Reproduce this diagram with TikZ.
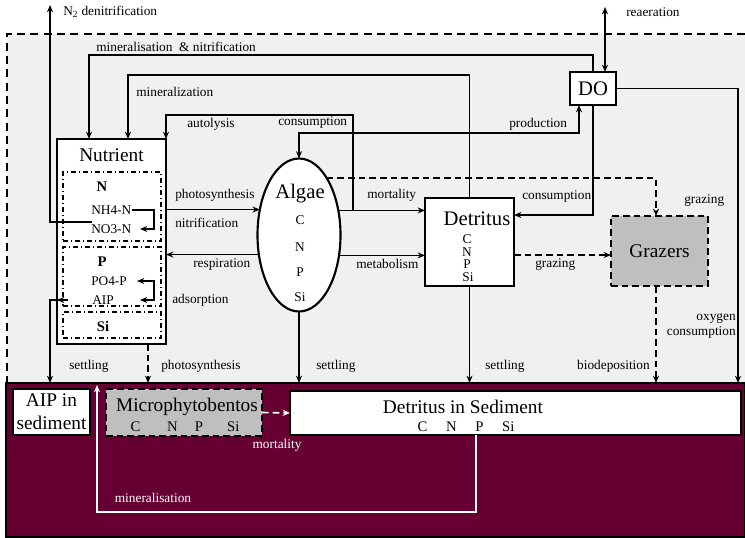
\documentclass[tikz,border=0pt]{standalone}
\usepackage{fontspec}
\setmainfont{Liberation Serif}
\usetikzlibrary{arrows.meta,shapes.geometric}
\definecolor{bggrey}{HTML}{F0F0F0}
\definecolor{seabedred}{HTML}{660033}
\definecolor{boxgrey}{HTML}{BFBFBF}
\tikzset{
  >={Stealth[length=5.5pt,width=4.5pt]},
  conn/.style={line width=1.3pt},
  dconn/.style={line width=1.3pt, dash pattern=on 5pt off 3pt},
  box/.style={draw, line width=1.6pt, fill=white, inner sep=0pt, outer sep=0pt},
  subbox/.style={draw, line width=1.2pt, dash pattern=on 4pt off 2pt on 1pt off 2pt, inner sep=0pt, outer sep=0pt},
  lbl/.style={font=\fontsize{10}{12}\selectfont, inner sep=0pt},
  big/.style={font=\fontsize{14.5}{17}\selectfont, inner sep=0pt},
  bold/.style={font=\fontsize{11}{13}\selectfont\bfseries, inner sep=0pt},
}
\begin{document}
\begin{tikzpicture}[x=0.75pt,y=-0.75pt]
\useasboundingbox (0,0) rectangle (745,538);
% backgrounds
\fill[bggrey] (7,34) rectangle (745,383);
\draw[line width=1.6pt, dash pattern=on 6pt off 4pt] (745,34) -- (7,34) -- (7,383);
\draw[fill=seabedred, line width=1.6pt] (6,383) rectangle (745,537);

% nutrient box
\node[box, minimum width=81.75pt, minimum height=153.75pt] (nut) at (111.5,241.5) {};
\node[big] (nuttitle) at (111.5,155) {Nutrient};
\node[subbox, minimum width=73.5pt, minimum height=51.75pt] (nsub) at (112,206.5) {};
\node[subbox, minimum width=73.5pt, minimum height=44.25pt] (psub) at (112,276.5) {};
\node[subbox, minimum width=73.5pt, minimum height=19.5pt] (sisub) at (112,325) {};
\node[bold] (nlet) at (102,187) {N};
\node[lbl, anchor=west] (nh4) at (91,210) {NH4-N};
\node[lbl, anchor=west] (no3) at (91,229) {NO3-N};
\node[bold] (plet) at (102,262) {P};
\node[lbl, anchor=west] (po4) at (91,281) {PO4-P};
\node[lbl, anchor=west] (aip) at (92,300) {AIP};
\node[bold] (silet) at (103,326) {Si};

% algae
\node[draw, ellipse, line width=1.6pt, fill=white, minimum width=62.25pt, minimum height=114.75pt, inner sep=0pt, outer sep=0pt] (alg) at (299,235) {};
\node[big, font=\fontsize{15.5}{18}\selectfont] (algtitle) at (300,194) {Algae};
\node[lbl] (algc) at (300,220) {C};
\node[lbl] (algn) at (300,247) {N};
\node[lbl] (algp) at (300,272) {P};
\node[lbl] (algsi) at (300,297) {Si};

% detritus
\node[box, minimum width=66.75pt, minimum height=66pt] (det) at (469.5,242) {};
\node[big, font=\fontsize{15.5}{18}\selectfont] (dettitle) at (477,219) {Detritus};
\node[lbl] (detc) at (467,239) {C};
\node[lbl] (detn) at (467,252) {N};
\node[lbl] (detp) at (467,264) {P};
\node[lbl] (detsi) at (468,277) {Si};

% DO and grazers
\node[box, big, font=\fontsize{15.5}{18}\selectfont, minimum width=34.5pt, minimum height=24.75pt] (do) at (593,88.5) {DO};
\node[draw, fill=boxgrey, line width=1.6pt, dash pattern=on 5pt off 3pt, minimum width=72.75pt, minimum height=52.5pt, inner sep=0pt, outer sep=0pt, big] (graz) at (659.5,251) {Grazers};

% sediment boxes
\node[box, minimum width=57.75pt, minimum height=34.5pt, align=center, font=\fontsize{14.5}{17}\selectfont] (aipsed) at (51.5,412) {AIP in\\sediment};
\node[draw, fill=boxgrey, line width=1.6pt, dash pattern=on 5pt off 3pt, minimum width=117pt, minimum height=35.25pt, inner sep=0pt, outer sep=0pt] (micro) at (184,412.5) {};
\node[big] (microtitle) at (187,407) {Microphytobentos};
\node[lbl, font=\fontsize{11}{13}\selectfont] (microcnps) at (185,427) {C\hspace{20pt}N\hspace{13pt}P\hspace{18pt}Si};
\node[box, minimum width=338.25pt, minimum height=33pt] (detsed) at (515.5,413) {};
\node[big] (detsedtitle) at (463,407) {Detritus in Sediment};
\node[lbl, font=\fontsize{11}{13}\selectfont] (detsedcnps) at (466,427) {C\hspace{14pt}N\hspace{14pt}P\hspace{14pt}Si};

% coordinates
\coordinate (n2top) at (50,5);
\coordinate (n2start) at (92,222);
\coordinate (reatop) at (605,7);
\coordinate (mn) at (89,55);
\coordinate (mz) at (128,75);
\coordinate (au0) at (353,210);
\coordinate (au1) at (166,115);
\coordinate (pc) at (579,133);
\coordinate (dd) at (592,215);
\coordinate (oxb) at (738,383);
\coordinate (gz) at (656,178);
\coordinate (grz) at (560,255);
\coordinate (seabed) at (0,383);
\coordinate (phb) at (148,383);
\coordinate (aipb) at (50,383);
\coordinate (aipl) at (68,300);
\coordinate (aiph) at (57,300);
\coordinate (nb) at (154,0);
\coordinate (no3t) at (140,229);
\coordinate (po4t) at (137,281);
\coordinate (aipt) at (140,300);
\coordinate (mnr) at (476,512);
\coordinate (mnl) at (97,512);
\coordinate (mnt) at (97,385);

% connectors
\draw[conn,->] (n2start) -| (n2top);
\draw[conn,<->] (reatop) -- (reatop |- do.north);
\draw[conn,->] (do.north) |- (mn) -- (mn |- nut.north);
\draw[conn,->] (det.north) |- (mz) -- (mz |- nut.north);
\draw[conn,->] (au0) |- (au1) -- (au1 |- nut.north);
\draw[conn,<->] (alg.north) |- (pc) -- (pc |- do.south);
\draw[conn,->] (do.south) -- (do.south |- dd) -- (dd -| det.east);
\draw[conn,->] (do.east) -| (oxb);
\draw[conn,->] (nut.east |- alg.147.5) -- (alg.147.5);
\draw[conn,->] (alg.206.5) -- (nut.east |- alg.206.5);
\draw[conn,->] (alg.32.5) -- (det.west |- alg.32.5);
\draw[conn,->] (alg.333.5) -- (det.west |- alg.333.5);
\draw[dconn,->] (alg.64.1) -- (alg.64.1 -| gz) -- (gz |- graz.north);
\draw[dconn,->] (grz -| det.east) -- (grz -| graz.west);
\draw[conn,->] (alg.south) -- (alg.south |- seabed);
\draw[conn,->] (det.south) -- (det.south |- seabed);
\draw[dconn,->] (gz |- graz.south) -- (gz |- seabed);
\draw[dconn,->] (phb |- nut.south) -- (phb);
\draw[conn,->] (aipl) -| (aipb);
\draw[conn,->] (aipl) -- (aiph);
\draw[conn,->] (nh4.east) -- (nh4.east -| nb) -- (no3t -| nb) -- (no3t);
\draw[conn,<->] (po4t) -- (po4t -| nb) -- (aipt -| nb) -- (aipt);
\draw[line width=1.2pt, white, dash pattern=on 5pt off 3pt, ->] (micro.east) -- (detsed.west);
\draw[line width=1pt, white, ->] (mnr |- detsed.south) -- (mnr) -- (mnl) -- (mnt);

% labels
\node[lbl, anchor=west] (ln2) at (63,12) {N\textsubscript{2} denitrification};
\node[lbl, anchor=west] (lrea) at (626,12) {reaeration};
\node[lbl, anchor=west] (lmn) at (96,47) {mineralisation \ \& nitrification};
\node[lbl, anchor=west] (lmz) at (136,92) {mineralization};
\node[lbl, anchor=west] (lau) at (187,124) {autolysis};
\node[lbl, anchor=west] (lcon1) at (278,123) {consumption};
\node[lbl, anchor=west] (lprod) at (509,124) {production};
\node[lbl, anchor=west] (lcon2) at (522,197) {consumption};
\node[lbl, anchor=west] (lgr1) at (684,201) {grazing};
\node[lbl, anchor=west] (lgr2) at (535,265) {grazing};
\node[lbl, anchor=east, align=right, font=\fontsize{10}{11.3}\selectfont] (lox) at (736,326) {oxygen\\consumption};
\node[lbl, anchor=east] (lbio) at (650,366) {biodeposition};
\node[lbl, anchor=west] (lset3) at (485,366) {settling};
\node[lbl, anchor=west] (lset2) at (316,366) {settling};
\node[lbl, anchor=west] (lph2) at (161,366) {photosynthesis};
\node[lbl, anchor=west] (lset1) at (69,366) {settling};
\node[lbl, anchor=west] (lph1) at (175,195) {photosynthesis};
\node[lbl, anchor=west] (lnit) at (175,223) {nitrification};
\node[lbl, anchor=west] (lresp) at (193,265) {respiration};
\node[lbl, anchor=west] (lads) at (172,300) {adsorption};
\node[lbl, anchor=west] (lmort) at (367,195) {mortality};
\node[lbl, anchor=west] (lmeta) at (356,264) {metabolism};
\node[lbl, text=white] (lmort2) at (277,445) {mortality};
\node[lbl, text=white] (lmin2) at (153,498) {mineralisation};
\end{tikzpicture}
\end{document}
